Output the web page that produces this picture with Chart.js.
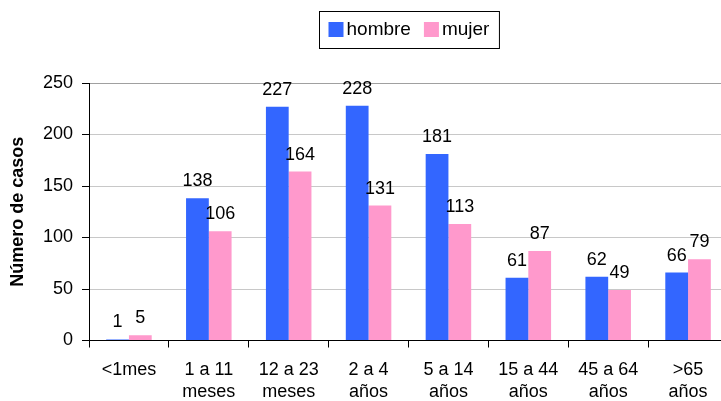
<!DOCTYPE html>
<html><head><meta charset="utf-8">
<script src="https://cdn.jsdelivr.net/npm/chart.js@4/dist/chart.umd.min.js"></script>
<style>html,body{margin:0;padding:0;overflow:hidden;background:#fff;width:721px;height:401px}</style>
</head><body>
<canvas id="c" width="728" height="401" style="width:728px;height:401px;display:block"></canvas>
<script>
const categories = [['<1mes'],['1 a 11','meses'],['12 a 23','meses'],['2 a 4','años'],['5 a 14','años'],['15 a 44','años'],['45 a 64','años'],['>65','años']];
const seriesNames = ['hombre','mujer'];
const hombre = [1,138,227,228,181,61,62,66];
const mujer = [5,106,164,131,113,87,49,79];
const yMin = 0, yMax = 250, yStep = 50;
const yTitle = 'Número de casos';
const colors = ['#3366FF','#FF99CC'];
const FONT = "'Liberation Sans', Arial, sans-serif";

const boxLegend = {
  id:'boxLegend',
  afterDraw(chart){
    const ctx = chart.ctx, ca = chart.chartArea;
    ctx.save();
    ctx.font = '19px ' + FONT;
    const sq = 15, gapSq = 3, gapItem = 13, padL = 9, padR = 10;
    const widths = chart.data.datasets.map(d => ctx.measureText(d.label).width);
    let w = padL + padR;
    widths.forEach((tw,i) => { w += sq + gapSq + tw + (i < widths.length-1 ? gapItem : 0); });
    const cx = (ca.left + ca.right)/2;
    const left = Math.round(cx - w/2) + 0.5, top = 11.5, h = 37;
    ctx.strokeStyle = '#000'; ctx.lineWidth = 1;
    ctx.strokeRect(left, top, w, h);
    let x = left + padL;
    ctx.textBaseline = 'alphabetic'; ctx.textAlign = 'left';
    chart.data.datasets.forEach((d,i) => {
      ctx.fillStyle = d.backgroundColor;
      ctx.fillRect(x, 22, sq, sq);
      x += sq + gapSq;
      ctx.fillStyle = '#000';
      ctx.fillText(d.label, x, 35);
      x += widths[i] + gapItem;
    });
    ctx.restore();
  }
};

const valueLabels = {
  id:'valueLabels',
  afterDatasetsDraw(chart){
    const ctx = chart.ctx;
    ctx.save();
    ctx.font = '18px ' + FONT;
    ctx.fillStyle = '#000';
    ctx.textAlign = 'center';
    ctx.textBaseline = 'alphabetic';
    chart.data.datasets.forEach((d,di) => {
      chart.getDatasetMeta(di).data.forEach((el,i) => {
        ctx.fillText(String(d.data[i]), el.x, el.y - 12);
      });
    });
    ctx.restore();
  }
};

new Chart(document.getElementById('c'), {
  type:'bar',
  data:{
    labels: categories,
    datasets:[
      {label:seriesNames[0], data:hombre, backgroundColor:colors[0], borderWidth:0},
      {label:seriesNames[1], data:mujer, backgroundColor:colors[1], borderWidth:0}
    ]
  },
  options:{
    responsive:false, animation:false, devicePixelRatio:1,
    layout:{padding:{top:83,left:0,right:0,bottom:0}},
    datasets:{bar:{categoryPercentage:0.57, barPercentage:1}},
    plugins:{legend:{display:false}, tooltip:{enabled:false}},
    scales:{
      x:{
        grid:{drawOnChartArea:false, drawTicks:true, tickLength:7, offset:true, color:'#000'},
        border:{color:'#000', width:1},
        ticks:{color:'#000', font:{family:FONT, size:18}, padding:12, maxRotation:0, autoSkip:false},
        afterFit(s){ s.height = 60.5; }
      },
      y:{
        min:yMin, max:yMax,
        grid:{color:(c)=> c.tick && c.tick.value === yMax ? '#a0a0a0' : '#c8c8c8', tickLength:7, tickColor:'#000'},
        border:{color:'#000', width:1},
        ticks:{stepSize:yStep, color:'#000', font:{family:FONT, size:18}, padding:9},
        title:{display:true, text:yTitle, color:'#000', font:{family:FONT, size:18, weight:'bold'}, padding:{top:7,bottom:0}},
        afterFit(s){ s.width = 89; }
      }
    }
  },
  plugins:[valueLabels, boxLegend]
});
</script>
</body></html>
